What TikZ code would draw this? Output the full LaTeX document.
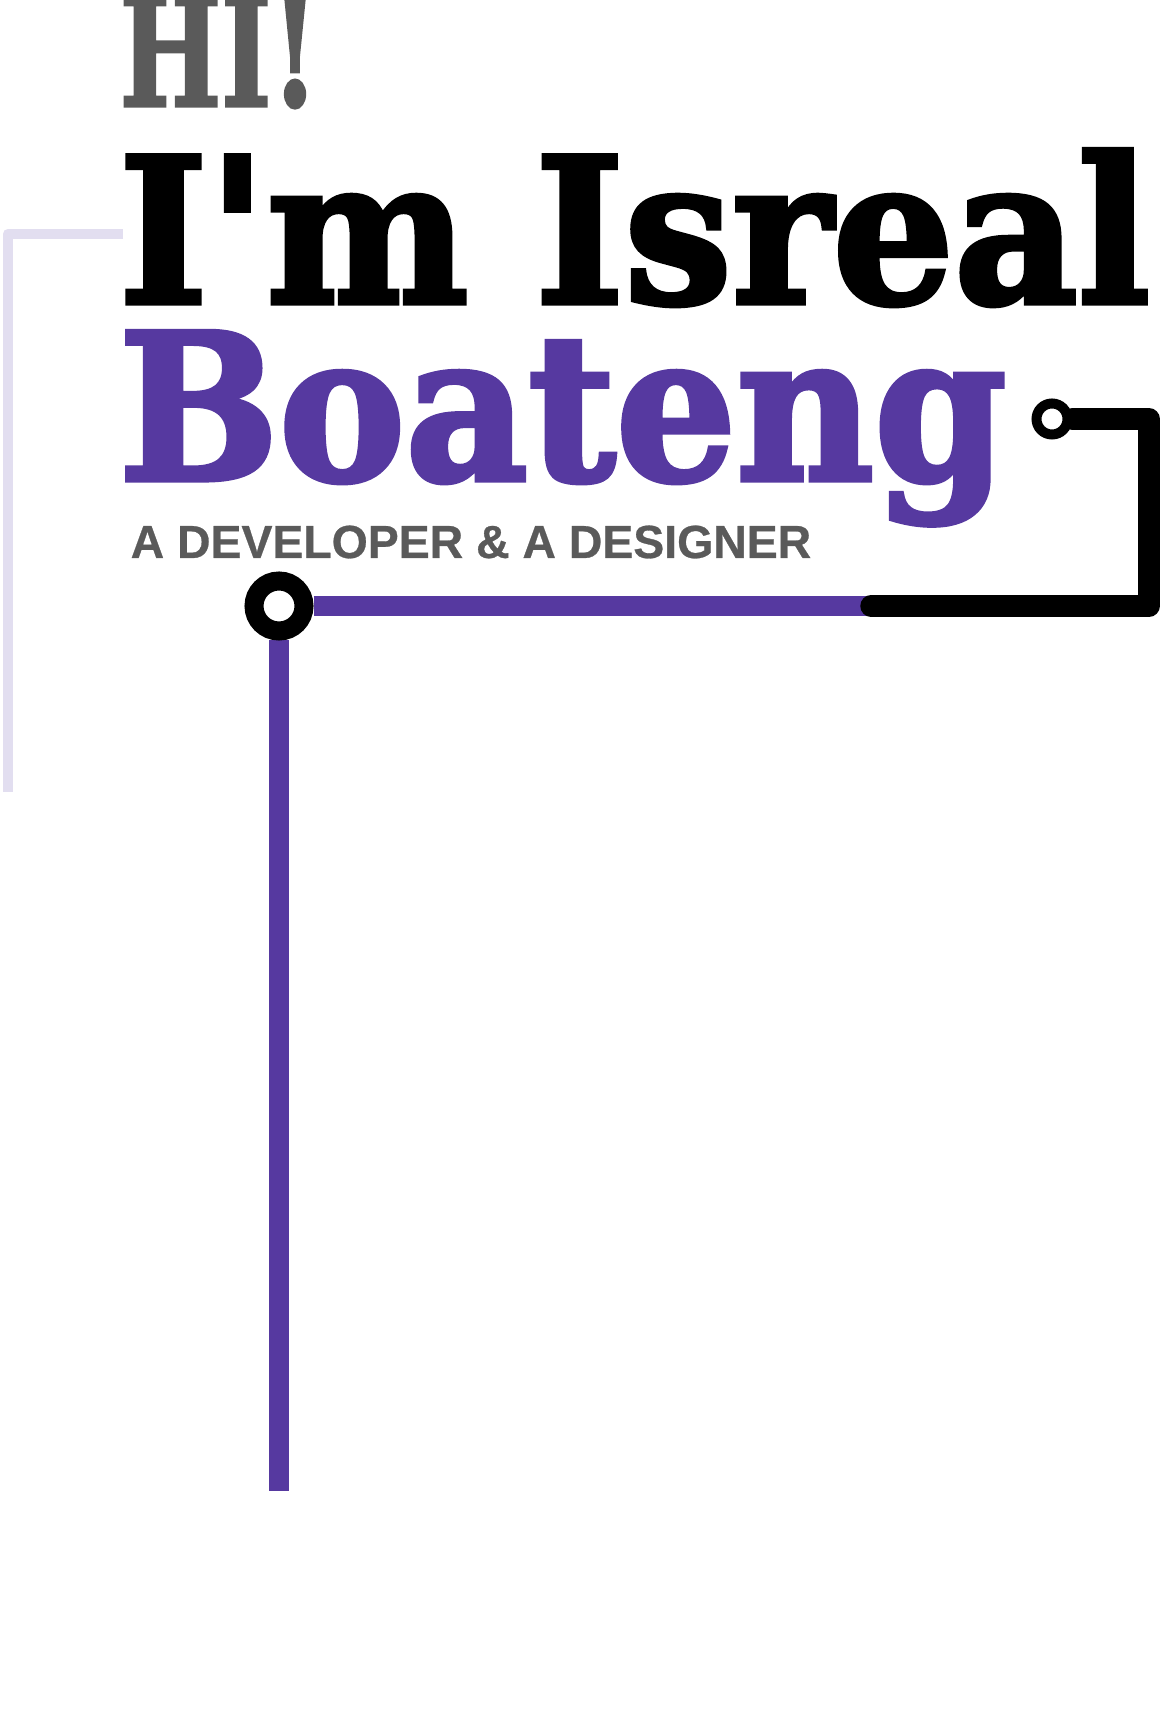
\documentclass[tikz,border=0pt]{standalone}
\usepackage{fontspec}
\usepackage{graphicx}
\usetikzlibrary{backgrounds}

\newfontfamily\titlefont{DejaVu Serif}[FakeBold=2.5]
\newfontfamily\hifont{DejaVu Serif Condensed}[FakeBold=2]
\newfontfamily\tagfont{Liberation Sans}[FakeBold=0.6]

\definecolor{brandpurple}{RGB}{86,57,160}
\definecolor{lavender}{RGB}{226,222,240}
\definecolor{ink}{RGB}{90,90,90}

\begin{document}
\begin{tikzpicture}[
  x=0.1mm, y=-0.1mm,
  word/.style={anchor=base west, inner sep=0pt},
  ring/.style={circle, draw=black, fill=white, inner sep=0pt},
  bigring/.style={ring, minimum size=5mm, line width=1.9mm},
  smallring/.style={ring, minimum size=3.1mm, line width=1mm},
  purpleline/.style={draw=brandpurple, line width=1.95mm},
  blackline/.style={draw=black, line width=2.15mm, line cap=round, line join=round},
  paleline/.style={draw=lavender, line width=1mm, line join=round},
  ]
  \useasboundingbox (0,0) rectangle (1160,1714);

  % headline
  \node[word, text=ink] (hi) at (119,106)
    {\hifont\bfseries\fontsize{43pt}{45pt}\selectfont\scalebox{0.79}[1]{HI!}};
  \node[word, text=black] (name) at (118,303)
    {\titlefont\bfseries\fontsize{57.5pt}{60pt}\selectfont\scalebox{0.945}[1]{I'm Isreal}};
  \node[word, text=brandpurple] (surname) at (118,480)
    {\titlefont\bfseries\fontsize{58pt}{60pt}\selectfont\scalebox{0.93}[1]{Boateng}};
  \node[word, text=ink] (tagline) at (130,558)
    {\tagfont\bfseries\fontsize{13.2pt}{15pt}\selectfont A DEVELOPER \& A DESIGNER};

  % rings
  \node[bigring] (hub) at (279,606) {};
  \node[smallring] (port) at (1052,419) {};

  \coordinate (tail) at (279,1491);
  \coordinate (join) at (871,606);
  \coordinate (low) at (1149,606);
  \coordinate (high) at (1149,419);
  \coordinate (paletop) at (123,234);
  \coordinate (palecorner) at (7.7,234);
  \coordinate (palebottom) at (7.7,792);

  \begin{pgfonlayer}{background}
    \draw[paleline] (paletop) -- (palecorner) -- (palebottom);
    \draw[purpleline] (hub) -- (tail);
    \draw[purpleline] (hub) -- (join);
    \draw[blackline] (join) -- (low) -- (high) -- (port);
  \end{pgfonlayer}
\end{tikzpicture}
\end{document}
